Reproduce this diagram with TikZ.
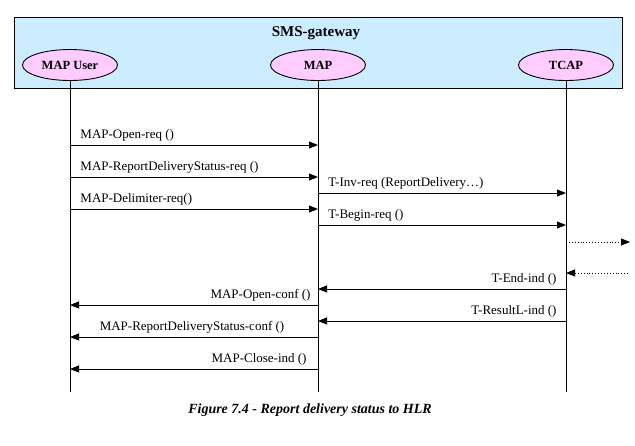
\documentclass[tikz,border=0pt]{standalone}
\usepackage{fontspec}
\setmainfont{Liberation Serif}
\usetikzlibrary{arrows.meta, positioning, shapes.geometric, calc}
\definecolor{gwblue}{HTML}{CCECFF}
\definecolor{entpink}{HTML}{FFCCFF}

\begin{document}
\begin{tikzpicture}[x=1pt, y=-1pt, line width=0.9pt,
  entity/.style={ellipse, draw, fill=entpink, minimum width=95pt, minimum height=31pt, inner sep=0pt, font=\fontsize{12.5}{14}\selectfont\bfseries},
  msg/.style={-{Triangle[length=9pt,width=7pt]}},
  note/.style={-{Triangle[length=9pt,width=7pt]}, dotted},
  lab/.style={font=\fontsize{13}{15}\selectfont, inner sep=1pt}]
\useasboundingbox (0,0) rectangle (635,445);
% SMS-gateway box
\draw[fill=gwblue] (14,17) rectangle (622,88);
\node[font=\fontsize{15}{17}\selectfont\bfseries] (gw) at (316,33) {SMS-gateway};
% Entities and lifelines
\node[entity] (user) at (70,65) {MAP User};
\node[entity] (map) at (318,65) {MAP};
\node[entity] (tcap) at (566,65) {TCAP};
\foreach \e in {user, map, tcap} {
  \coordinate (\e-end) at (\e |- 0,392);
  \draw (\e.south) -- (\e-end);
}
% MAP User -> MAP
\foreach \y/\txt [count=\i] in {145/MAP-Open-req (), 177/MAP-ReportDeliveryStatus-req (), 209/MAP-Delimiter-req()} {
  \coordinate (ua\i) at (user |- 0,\y);
  \coordinate (ma\i) at (map |- 0,\y);
  \draw[msg] (ua\i) -- (ma\i);
  \node[lab, anchor=south west] (ul\i) at ([xshift=9pt, yshift=2pt]ua\i) {\txt};
}
% MAP -> TCAP
\foreach \y/\txt [count=\i] in {193/T-Inv-req (ReportDelivery\dots), 225/T-Begin-req ()} {
  \coordinate (mb\i) at (map |- 0,\y);
  \coordinate (tb\i) at (tcap |- 0,\y);
  \draw[msg] (mb\i) -- (tb\i);
  \node[lab, anchor=south west] (tl\i) at ([xshift=9pt, yshift=2pt]mb\i) {\txt};
}
% To and from the HLR side
\coordinate (tout) at (tcap |- 0,242);
\coordinate (hout) at (630,242);
\draw[note] (tout) -- (hout);
\coordinate (hin) at (628,273);
\coordinate (tin) at (tcap |- 0,273);
\draw[note] (hin) -- (tin);
% TCAP -> MAP
\foreach \y/\txt [count=\i] in {289/T-End-ind (), 321/T-ResultL-ind ()} {
  \coordinate (tc\i) at (tcap |- 0,\y);
  \coordinate (mc\i) at (map |- 0,\y);
  \draw[msg] (tc\i) -- (mc\i);
  \node[lab, anchor=south east] (rl\i) at ([xshift=-8pt, yshift=2pt]tc\i) {\txt};
}
% MAP -> MAP User
\coordinate (md1) at (map |- 0,305);
\coordinate (ud1) at (user |- 0,305);
\draw[msg] (md1) -- (ud1);
\node[lab, anchor=south east] (dl1) at ([xshift=-6pt, yshift=2pt]md1) {MAP-Open-conf ()};
\coordinate (md2) at (map |- 0,337);
\coordinate (ud2) at (user |- 0,337);
\draw[msg] (md2) -- (ud2);
\node[lab, anchor=south] (dl2) at ([xshift=-2pt, yshift=2pt]$(md2)!0.5!(ud2)$) {MAP-ReportDeliveryStatus-conf ()};
\coordinate (md3) at (map |- 0,369);
\coordinate (ud3) at (user |- 0,369);
\draw[msg] (md3) -- (ud3);
\node[lab, anchor=south east] (dl3) at ([xshift=-10pt, yshift=2pt]md3) {MAP-Close-ind ()};
% Caption
\node[font=\fontsize{14}{16}\selectfont\bfseries\itshape] (cap) at (310,410) {Figure 7.4 - Report delivery status to HLR};
\end{tikzpicture}
\end{document}
